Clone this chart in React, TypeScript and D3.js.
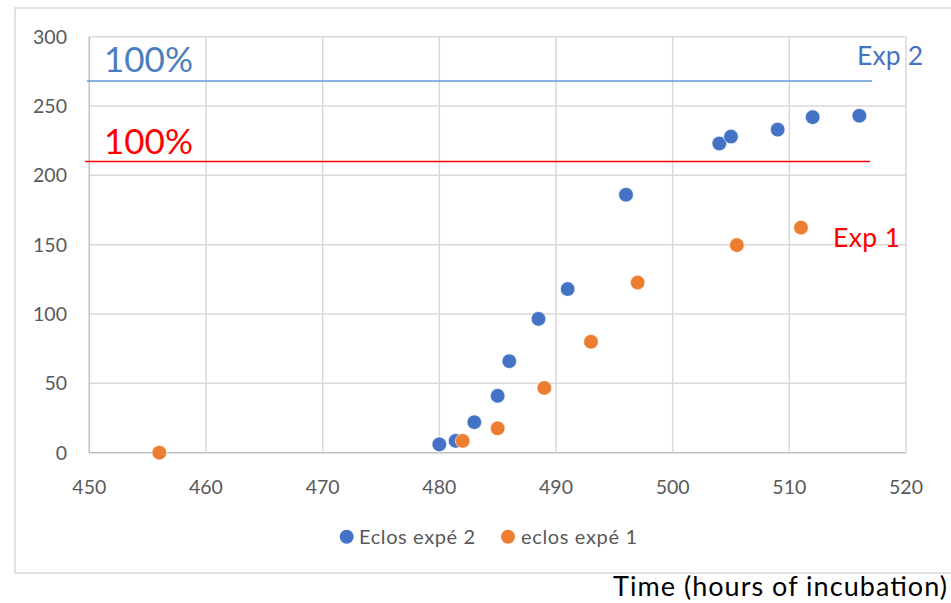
import React from "react";
import * as d3 from "d3";

const exp2X = [480, 481.4, 483, 485, 486, 488.5, 491, 496, 504, 505, 509, 512, 516];
const exp2Y = [6, 8.5, 22, 41, 66, 96.5, 118, 186, 223, 228, 233, 242, 243];
const exp1X = [456, 482, 485, 489, 493, 497, 505.5, 511];
const exp1Y = [0, 8.5, 17.6, 46.7, 80, 122.7, 149.7, 162.3];
const xTicks = [450, 460, 470, 480, 490, 500, 510, 520];
const yTicks = [0, 50, 100, 150, 200, 250, 300];
const exp2Total = 268;
const exp1Total = 210;
const seriesNames = ["Eclos expé 2", "eclos expé 1"];
const xTitle = "Time (hours of incubation)";

const BLUE = "#4472C4";
const ORANGE = "#ED7D31";
const FONT = "Lato, 'Open Sans', sans-serif";

export default function App() {
  const W = 951, H = 603;
  const x = d3.scaleLinear().domain([450, 520]).range([89.3, 906]);
  const y = d3.scaleLinear().domain([0, 300]).range([452.7, 36.7]);
  const lineX0 = 449.8, lineX1 = 517.1;

  return (
    <svg width={W} height={H} style={{ position: "absolute", left: 0, top: 0, background: "#fff" }}>
      <rect x={15} y={8} width={960} height={565} fill="#fff" stroke="#d9d9d9" strokeWidth={1.5} />
      {/* grid */}
      {yTicks.map((t) => (
        <line key={"gy" + t} x1={x(450)} x2={x(520)} y1={y(t)} y2={y(t)} stroke={t === 0 ? "#bfbfbf" : "#d9d9d9"} strokeWidth={1.5} />
      ))}
      {xTicks.map((t) => (
        <line key={"gx" + t} x1={x(t)} x2={x(t)} y1={y(0)} y2={y(300)} stroke={t === 450 ? "#bfbfbf" : "#d9d9d9"} strokeWidth={1.5} />
      ))}
      {/* tick labels */}
      {yTicks.map((t) => (
        <text key={"ly" + t} x={67} y={y(t) + 7} textAnchor="end" fontFamily={FONT} fontSize={19.5} fill="#595959">{t}</text>
      ))}
      {xTicks.map((t) => (
        <text key={"lx" + t} x={x(t)} y={y(0) + 41} textAnchor="middle" fontFamily={FONT} fontSize={19.5} fill="#595959">{t}</text>
      ))}
      {/* 100% lines */}
      <line x1={x(lineX0)} x2={x(lineX1)} y1={y(exp2Total)} y2={y(exp2Total)} stroke="#5B9BD5" strokeWidth={1.5} />
      <line x1={x(lineX0) - 2} x2={x(lineX1) - 2} y1={y(exp1Total)} y2={y(exp1Total)} stroke="#FF0000" strokeWidth={1.5} />
      <text x={104} y={72} fontFamily={FONT} fontSize={35} fill="#4A7EC0">100%</text>
      <text x={104} y={154} fontFamily={FONT} fontSize={35} fill="#FF0000">100%</text>
      <text x={857} y={65} fontFamily={FONT} fontSize={26.5} fill={BLUE} textLength={66}>Exp 2</text>
      <text x={833} y={246.5} fontFamily={FONT} fontSize={26.5} fill="#FF0000" textLength={67}>Exp 1</text>
      {/* points */}
      {exp2X.map((v, i) => (
        <circle key={"b" + i} cx={x(v)} cy={y(exp2Y[i])} r={7.3} fill={BLUE} stroke="#fff" strokeWidth={0.6} />
      ))}
      {exp1X.map((v, i) => (
        <circle key={"o" + i} cx={x(v)} cy={y(exp1Y[i])} r={7.3} fill={ORANGE} stroke="#fff" strokeWidth={0.6} />
      ))}
      {/* legend */}
      <circle cx={346.7} cy={536.7} r={7} fill={BLUE} />
      <text x={359} y={543.5} fontFamily={FONT} fontSize={20} fill="#595959" textLength={116}>{seriesNames[0]}</text>
      <circle cx={508} cy={536.7} r={7} fill={ORANGE} />
      <text x={521} y={543.5} fontFamily={FONT} fontSize={20} fill="#595959" textLength={116}>{seriesNames[1]}</text>
      {/* axis title */}
      <text x={613} y={596} fontFamily={FONT} fontSize={27} fill="#000" textLength={334}>{xTitle}</text>
    </svg>
  );
}
